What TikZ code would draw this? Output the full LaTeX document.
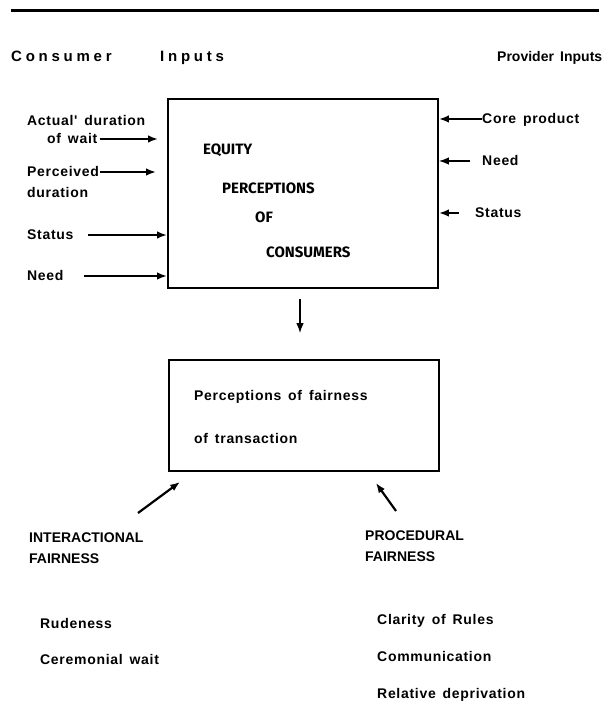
\documentclass[tikz,border=0pt]{standalone}
\usepackage{fontspec}
\setmainfont{Liberation Sans}
\newfontfamily\lblfont{Liberation Sans Bold}[LetterSpace=5,WordSpace=1.5]
\newfontfamily\headfont{Liberation Sans Bold}[LetterSpace=25,WordSpace=1.8]
\newfontfamily\plainfont{Liberation Sans Bold}[WordSpace=1.6]
\newfontfamily\capsfont{Fira Sans Bold}
\usetikzlibrary{arrows,arrows.meta,positioning}

\begin{document}
\begin{tikzpicture}[x=1pt,y=1pt,>={Latex[length=10pt,width=7.5pt]},
	lbl/.style={anchor=west,inner sep=0pt,text height=10pt,text depth=0pt,font=\lblfont\fontsize{14}{16}\selectfont},
	head/.style={lbl,font=\headfont\fontsize{15}{17}\selectfont},
	plain lbl/.style={lbl,font=\plainfont\fontsize{14}{16}\selectfont},
	in lbl/.style={lbl,font=\capsfont\fontsize{15}{17}\selectfont},
	box/.style={draw,line width=1.8pt,inner sep=0pt},
	input/.style={->,line width=2pt}]

	\useasboundingbox (0,0) rectangle (605,714);
	\draw[line width=3pt] (11,703) -- (599,703);

	% headings
	\node[head] (consumer) at (11,657) {Consumer};
	\node[head] (cinputs) at (160,657) {Inputs};
	\node[plain lbl] (pinputs) at (497,657) {Provider Inputs};

	% the two boxes
	\node[box,minimum width=270pt,minimum height=189pt] (equity) at (303,520.5) {};
	\node[box,minimum width=270pt,minimum height=111pt] (fair) at (304,298.5) {};

	\node[in lbl] (eq1) at (203,564) {EQUITY};
	\node[in lbl] (eq2) at (222,525) {PERCEPTIONS};
	\node[in lbl] (eq3) at (255,496) {OF};
	\node[in lbl] (eq4) at (266,461) {CONSUMERS};

	\node[lbl] (fair1) at (194,318) {Perceptions of fairness};
	\node[lbl] (fair2) at (194,275) {of transaction};

	% consumer inputs
	\node[lbl] (actual) at (27,593) {Actual' duration};
	\node[lbl] (ofwait) at (47,575) {of wait};
	\node[lbl] (perc) at (27,542) {Perceived};
	\node[lbl] (percdur) at (27,521) {duration};
	\node[lbl] (cstatus) at (27,479) {Status};
	\node[lbl] (cneed) at (27,438) {Need};

	\draw[input] ([xshift=2pt]ofwait.east) -- ([xshift=-9pt]ofwait -| equity.west);
	\draw[input] ([xshift=1pt]perc.east) -- ([xshift=-11pt]perc -| equity.west);
	\draw[input] ([xshift=14pt]cstatus.east) -- (cstatus -| equity.west);
	\draw[input] ([xshift=20pt]cneed.east) -- (cneed -| equity.west);

	% provider inputs
	\node[lbl] (core) at (482,595) {Core product};
	\node[lbl] (pneed) at (482,553) {Need};
	\node[lbl] (pstatus) at (475,501) {Status};

	\draw[input] (core.west) -- (core -| equity.east);
	\draw[input,line width=1.4pt] ([xshift=-12pt]pneed.west) -- (pneed -| equity.east);
	\draw[input] ([xshift=-16pt]pstatus.west) -- (pstatus -| equity.east);

	\draw[->,line width=1.3pt] ([xshift=-3pt,yshift=-10pt]equity.south) -- ([xshift=-4pt,yshift=26pt]fair.north);

	% fairness
	\node[plain lbl] (inter) at (29,176) {INTERACTIONAL};
	\node[plain lbl] (interf) at (29,155) {FAIRNESS};
	\node[plain lbl] (proc) at (365,178) {PROCEDURAL};
	\node[plain lbl] (procf) at (365,157) {FAIRNESS};

	\coordinate (itail) at (138,201);
	\coordinate (ptail) at (396,203);
	\draw[->,line width=2.2pt] (itail) -- ([shift={(12,-10)}]fair.south west);
	\draw[->,line width=2.2pt] (ptail) -- ([shift={(-64,-11)}]fair.south east);

	\node[lbl] (rude) at (40,90) {Rudeness};
	\node[lbl] (cerem) at (40,54) {Ceremonial wait};
	\node[lbl] (clarity) at (377,94) {Clarity of Rules};
	\node[lbl] (comm) at (377,57) {Communication};
	\node[lbl] (reldep) at (377,20) {Relative deprivation};
\end{tikzpicture}
\end{document}
